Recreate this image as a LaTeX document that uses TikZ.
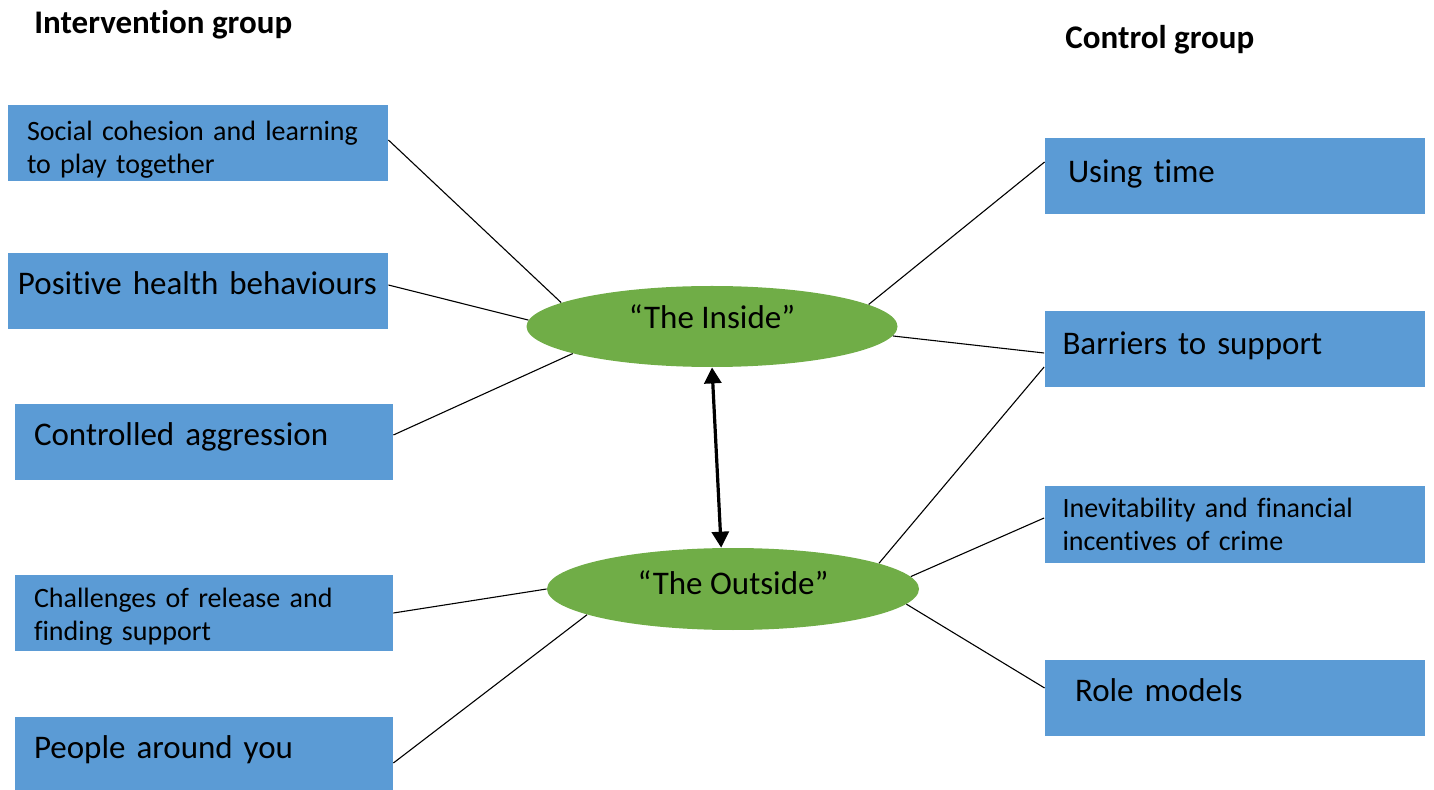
\documentclass[tikz,border=0pt]{standalone}
\usepackage{fontspec}
\setmainfont{Carlito}[Ligatures=NoCommon, Contextuals=NoAlternate]
\usetikzlibrary{shapes.geometric,arrows.meta}
\definecolor{boxblue}{HTML}{5B9BD5}
\definecolor{ellgreen}{HTML}{70AD47}
\begin{document}
\begin{tikzpicture}[x=0.5pt,y=-0.5pt,
  bigfont/.style={font=\fontsize{16.5}{19}\selectfont},
  smallfont/.style={font=\fontsize{14}{16.5}\selectfont},
  box/.style={fill=boxblue, minimum width=190pt, minimum height=38pt,
    inner ysep=0pt, inner xsep=#1, text width=190pt-2*#1, align=left},
  onebox/.style={box=#1, bigfont, text height=0.7em, text depth=0.4em},
  twobox/.style={box=#1, smallfont},
  ell/.style={ellipse, fill=ellgreen, inner sep=0pt, bigfont,
    text height=0.7em, text depth=0.45em},
  title/.style={anchor=base west, inner sep=0pt, font=\fontsize{16.5}{19}\selectfont\bfseries},
  link/.style={draw=black, line width=0.55pt},
  dblarrow/.style={draw=black, line width=1.6pt, {Triangle[length=8pt,width=8.5pt]}-{Triangle[length=8pt,width=8.5pt]}}
]
\useasboundingbox (0,0) rectangle (1434,790);

% titles
\node[title] (tint) at (34,34) {Intervention group};
\node[title] (tcon) at (1065,49) {Control group};

% left boxes
\node[twobox=9.5pt] (soc) at (198,143) {\rule{0pt}{16pt}Social cohesion and learning\\to play together};
\node[onebox=5pt] (pos) at (198,291.5) {Positive health behaviours};
\node[onebox=9.5pt, minimum width=189pt, text width=170pt] (con) at (204,442.5) {Controlled aggression};
\node[twobox=9.5pt, minimum width=189pt, text width=170pt] (cha) at (204,613) {\rule{0pt}{13pt}Challenges of release and\\finding support};
\node[onebox=9.5pt, minimum width=189pt, text width=170pt] (peo) at (204,755) {People around you};

% right boxes
\node[onebox=11.5pt, text depth=0.05em] (use) at (1235,176) {Using time};
\node[onebox=9pt, text depth=0.1em] (bar) at (1234.5,349) {Barriers to support};
\node[twobox=9pt] (ine) at (1234.5,524.5) {Inevitability and financial\\incentives of crime};
\node[onebox=15pt, text depth=0.3em] (rol) at (1235,697.5) {Role models};

% ellipses
\node[ell, minimum width=185.5pt, minimum height=40.5pt] (inside) at (712,326.5) {“The Inside”};
\node[ell, minimum width=186pt, minimum height=41pt, text depth=0.12em] (outside) at (733,589) {“The Outside”};

% connectors to The Inside
\draw[link] ([yshift=1.5pt]soc.east) -- (inside.171);
\draw[link] ([yshift=3.25pt]pos.east) -- (inside.178.3);
\draw[link] ([yshift=3.75pt]con.east) -- (inside.191.8);
\draw[link] (inside.8.8) -- ([yshift=7pt]use.west);
\draw[link] (inside.357) -- ([yshift=-2pt]bar.west);

% connectors to The Outside
\draw[link] (cha.east) -- (outside.180.3);
\draw[link] ([yshift=-4pt]peo.east) -- (outside.190.5);
\draw[link] (outside.10.9) -- ([yshift=-9pt]bar.west);
\draw[link] (outside.4.3) -- ([yshift=3.25pt]ine.west);
\draw[link] (outside.355) -- ([yshift=4.75pt]rol.west);

% double arrow
\draw[dblarrow] (inside.south) -- (outside.106);
\end{tikzpicture}
\end{document}
